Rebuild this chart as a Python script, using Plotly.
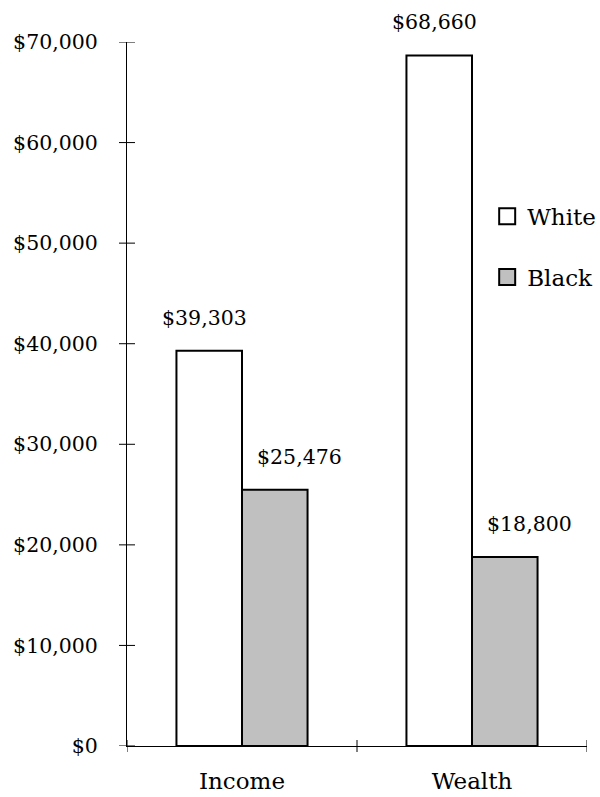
import plotly.graph_objects as go

categories = ["Income", "Wealth"]
white_vals = [39303, 68660]
black_vals = [25476, 18800]
y_tick_vals = [0, 10000, 20000, 30000, 40000, 50000, 60000, 70000]
y_tick_text = ["$0", "$10,000", "$20,000", "$30,000", "$40,000", "$50,000", "$60,000", "$70,000"]

FONT = "DejaVu Serif"
NUM_SIZE = 20.5
WORD_SIZE = 23
fig = go.Figure()
fig.add_trace(go.Bar(name="White", x=categories, y=white_vals, showlegend=False,
                     marker=dict(color="white", line=dict(color="black", width=2))))
fig.add_trace(go.Bar(name="Black", x=categories, y=black_vals, showlegend=False,
                     marker=dict(color="#c0c0c0", line=dict(color="black", width=2))))
# legend entries
fig.add_trace(go.Scatter(name="White", x=[None], y=[None], mode="markers", legendgroup="w",
                         marker=dict(symbol="square", size=16, color="white",
                                     line=dict(color="black", width=2))))
fig.add_trace(go.Scatter(name="Black", x=[None], y=[None], mode="markers", legendgroup="b",
                         marker=dict(symbol="square", size=16, color="#c0c0c0",
                                     line=dict(color="black", width=2))))

bargap = 0.43
half = (1 - bargap) / 2 * 230 / 2
for i, c in enumerate(categories):
    for v, sh in ((white_vals[i], -half - 5), (black_vals[i], half + 25)):
        fig.add_annotation(x=c, y=v, text=f"${v:,}", showarrow=False, xshift=sh, yshift=33,
                           yanchor="middle", font=dict(family=FONT, size=NUM_SIZE, color="black"))

# y ticks crossing the axis
for v in y_tick_vals:
    fig.add_shape(type="line", xref="paper", yref="y", xsizemode="pixel", xanchor=0,
                  x0=-8, x1=8, y0=v, y1=v, line=dict(color="black", width=1))
# x ticks at category boundaries
for b in [-0.5, 0.5, 1.5]:
    fig.add_shape(type="line", xref="x", yref="paper", ysizemode="pixel", yanchor=0,
                  x0=b, x1=b, y0=-6, y1=6, line=dict(color="black", width=1))

fig.update_layout(
    width=600, height=797,
    margin=dict(l=127, r=13, t=42, b=51, autoexpand=False),
    paper_bgcolor="white", plot_bgcolor="white",
    barmode="group", bargap=bargap, bargroupgap=0,
    font=dict(family=FONT, size=NUM_SIZE, color="black"),
    showlegend=True,
    legend=dict(x=0.783, y=0.783, xanchor="left", yanchor="top", bgcolor="rgba(0,0,0,0)",
                tracegroupgap=28, traceorder="grouped",
                font=dict(family=FONT, size=WORD_SIZE)),
)
fig.update_xaxes(range=[-0.5, 1.5], showline=True, linecolor="black", linewidth=1,
                 ticks="", showgrid=False, ticklabelstandoff=14, zeroline=False,
                 automargin=False, tickfont=dict(family=FONT, size=WORD_SIZE))
fig.update_yaxes(range=[0, 70000], showline=True, linecolor="black", linewidth=1,
                 tickvals=y_tick_vals, ticktext=y_tick_text, ticks="", showgrid=False,
                 zeroline=False, ticklabelstandoff=24, automargin=False,
                 tickfont=dict(family=FONT, size=NUM_SIZE))

fig.write_html("out.html")
